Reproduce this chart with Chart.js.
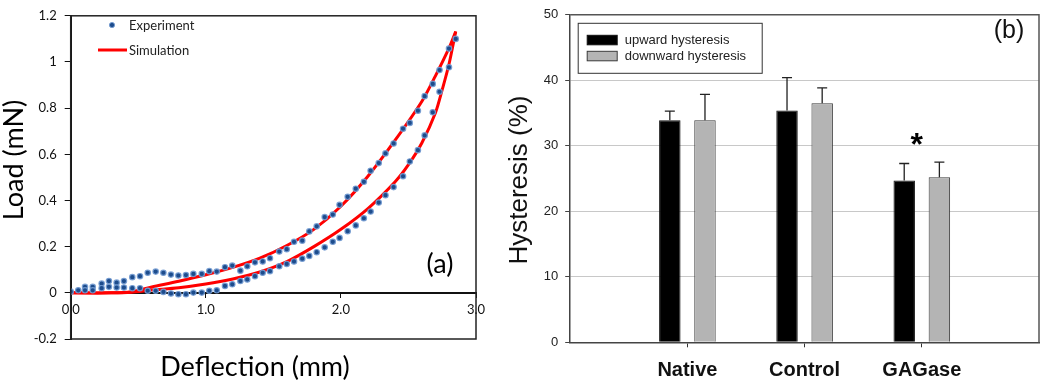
<!DOCTYPE html>
<html>
<head>
<meta charset="utf-8">
<script src="https://cdn.jsdelivr.net/npm/chart.js@4.4.0/dist/chart.umd.min.js"></script>
<style>
  body { margin: 0; background: #fff; }
  #wrap { position: relative; width: 1050px; height: 383px; }
  canvas { position: absolute; top: 0; }
  #loadChart { left: 0; }
  #hystChart { left: 500px; }
</style>
</head>
<body>
<div id="wrap">
  <canvas id="loadChart" width="500" height="383"></canvas>
  <canvas id="hystChart" width="550" height="383"></canvas>
</div>
<script>
// panel (a) - [deflection (mm), load (mN)]
var expLoading = [[0.00,0.005],[0.056,0.011],[0.106,0.026],[0.163,0.026],[0.229,0.040],[0.283,0.051],[0.340,0.044],
  [0.394,0.051],[0.456,0.068],[0.513,0.072],[0.570,0.087],[0.629,0.092],[0.686,0.087],[0.742,0.079],[0.797,0.075],
  [0.853,0.077],[0.908,0.082],[0.970,0.082],[1.026,0.094],[1.081,0.092],[1.142,0.111],[1.196,0.118],[1.256,0.096],
  [1.307,0.115],[1.364,0.132],[1.421,0.136],[1.475,0.150],[1.544,0.179],[1.599,0.189],[1.653,0.221],[1.714,0.226],
  [1.766,0.266],[1.821,0.288],[1.88,0.328],[1.94,0.339],[1.99,0.381],[2.05,0.416],[2.11,0.451],[2.17,0.481],
  [2.22,0.529],[2.28,0.562],[2.33,0.604],[2.39,0.647],[2.46,0.711],[2.51,0.736],[2.57,0.789],[2.62,0.852],
  [2.68,0.905],[2.73,0.965],[2.80,1.058],[2.85,1.10]];
var expUnloading = [[2.80,0.977],[2.73,0.871],[2.68,0.782],[2.62,0.682],[2.57,0.618],[2.51,0.569],[2.46,0.505],
  [2.39,0.458],[2.33,0.423],[2.28,0.391],[2.22,0.352],[2.17,0.323],[2.11,0.292],[2.05,0.267],[1.99,0.238],
  [1.94,0.221],[1.88,0.197],[1.821,0.176],[1.766,0.160],[1.714,0.148],[1.653,0.136],[1.599,0.125],[1.544,0.115],
  [1.475,0.094],[1.421,0.087],[1.364,0.072],[1.307,0.058],[1.256,0.051],[1.196,0.037],[1.142,0.030],[1.081,0.011],
  [1.026,0.009],[0.970,0.001],[0.908,0.001],[0.853,-0.006],[0.797,-0.006],[0.742,-0.003],[0.686,0.004],
  [0.629,0.009],[0.570,0.009],[0.513,0.020],[0.456,0.020],[0.394,0.023],[0.340,0.023],[0.283,0.026],
  [0.229,0.020],[0.163,0.011],[0.106,0.011]];
var simLoading = [[0,0],[0.3,0.0],[0.45,0.005],[0.6,0.025],[0.8,0.05],[1.0,0.078],[1.2,0.11],[1.4,0.15],
  [1.6,0.205],[1.8,0.275],[2.0,0.375],[2.2,0.505],[2.4,0.66],[2.6,0.83],[2.7,0.94],[2.8,1.06],[2.85,1.132]];
var simUnloading = [[2.85,1.132],[2.8,0.99],[2.75,0.88],[2.7,0.78],[2.6,0.65],[2.5,0.555],[2.4,0.48],[2.2,0.365],
  [2.0,0.275],[1.8,0.2],[1.6,0.135],[1.4,0.09],[1.2,0.06],[1.0,0.038],[0.8,0.022],[0.6,0.012],[0.45,0.003],
  [0.3,0.0],[0,0]];
var deflectionTicks = ['0.0', '1.0', '2.0', '3.0'];
var loadTicks = ['-0.2', '0', '0.2', '0.4', '0.6', '0.8', '1', '1.2'];

// panel (b) - hysteresis (%)
var groups = ['Native', 'Control', 'GAGase'];
var upwardMean = [33.9, 35.4, 24.7];
var upwardErr = [1.4, 5.0, 2.6];
var downwardMean = [33.9, 36.5, 25.2];
var downwardErr = [3.95, 2.35, 2.3];
var significance = ['', '', '*'];

function toXY(pts) {
    return pts.map(function(p) { return { x: p[0], y: p[1] }; });
}

var dotFill = '#1d4c8c';
var dotEdge = 'rgba(115,155,210,0.9)';

// frame, legend, titles for panel (a)
var panelA = {
    id: 'panelA',
    afterDraw: function(chart) {
        var ctx = chart.ctx, a = chart.chartArea;
        ctx.save();
        ctx.strokeStyle = '#222';
        ctx.lineWidth = 1.5;
        ctx.strokeRect(a.left, a.top, a.right - a.left, a.bottom - a.top);

        // legend
        ctx.fillStyle = dotFill;
        ctx.strokeStyle = dotEdge;
        ctx.lineWidth = 1;
        ctx.beginPath();
        ctx.arc(112, 25, 2.6, 0, Math.PI * 2);
        ctx.fill();
        ctx.stroke();
        ctx.strokeStyle = '#ff0000';
        ctx.lineWidth = 3;
        ctx.beginPath();
        ctx.moveTo(98, 50);
        ctx.lineTo(127, 50);
        ctx.stroke();
        ctx.fillStyle = '#222';
        ctx.font = '13px Lato';
        ctx.textAlign = 'left';
        ctx.textBaseline = 'middle';
        ctx.fillText(chart.data.datasets[0].label, 129, 26);
        ctx.fillText(chart.data.datasets[1].label, 129, 51);

        // titles
        ctx.fillStyle = '#000';
        ctx.textAlign = 'center';
        ctx.font = '27px Lato';
        ctx.fillText('Deflection (mm)', 255, 367);
        ctx.fillText('(a)', 440, 264);
        ctx.translate(14, 160);
        ctx.rotate(-Math.PI / 2);
        ctx.fillText('Load (mN)', 0, 0);
        ctx.restore();
    }
};

new Chart(document.getElementById('loadChart'), {
    type: 'scatter',
    data: {
        datasets: [{
            label: 'Experiment',
            data: toXY(expLoading.concat(expUnloading)),
            pointRadius: 2.7,
            pointBackgroundColor: dotFill,
            pointBorderColor: dotEdge,
            pointBorderWidth: 1.2,
            order: 0
        }, {
            label: 'Simulation',
            data: toXY(simLoading),
            showLine: true,
            borderColor: '#ff0000',
            borderWidth: 3,
            pointRadius: 0,
            tension: 0.3,
            order: 1
        }, {
            label: 'Simulation',
            data: toXY(simUnloading),
            showLine: true,
            borderColor: '#ff0000',
            borderWidth: 3,
            pointRadius: 0,
            tension: 0.3,
            order: 1
        }]
    },
    options: {
        responsive: false,
        animation: false,
        layout: { padding: { top: 10, right: 24, bottom: 44, left: 0 } },
        plugins: { legend: { display: false }, tooltip: { enabled: false } },
        scales: {
            x: {
                type: 'linear',
                position: { y: 0 },
                min: 0,
                max: 3,
                ticks: {
                    stepSize: 1,
                    maxRotation: 0,
                    padding: 5,
                    color: '#111',
                    font: { family: 'Lato', size: 13 },
                    callback: function(v, i) { return deflectionTicks[i]; }
                },
                grid: { drawOnChartArea: false, tickLength: 4, color: '#111' },
                border: { color: '#111', width: 2 },
                afterFit: function(s) { s.height = 0; }
            },
            y: {
                min: -0.2,
                max: 1.2,
                ticks: {
                    stepSize: 0.2,
                    padding: 8,
                    color: '#111',
                    font: { family: 'Lato', size: 13 },
                    callback: function(v, i) { return loadTicks[i]; }
                },
                grid: { drawOnChartArea: false, tickLength: 6, color: '#111' },
                border: { color: '#111', width: 2 },
                afterFit: function(s) { s.width = 70.7; }
            }
        }
    },
    plugins: [panelA]
});

// frame, error bars, legend and labels for panel (b)
var panelB = {
    id: 'panelB',
    afterDatasetsDraw: function(chart) {
        var ctx = chart.ctx, y = chart.scales.y;
        ctx.save();
        ctx.strokeStyle = '#222';
        ctx.lineWidth = 1.3;
        chart.data.datasets.forEach(function(ds, di) {
            chart.getDatasetMeta(di).data.forEach(function(bar, j) {
                var top = y.getPixelForValue(ds.data[j].y + ds.err[j]);
                ctx.beginPath();
                ctx.moveTo(bar.x, bar.y);
                ctx.lineTo(bar.x, top);
                ctx.moveTo(bar.x - 5, top);
                ctx.lineTo(bar.x + 5, top);
                ctx.stroke();
            });
        });
        ctx.restore();
    },
    afterDraw: function(chart) {
        var ctx = chart.ctx, a = chart.chartArea, x = chart.scales.x, y = chart.scales.y;
        ctx.save();
        ctx.strokeStyle = '#555';
        ctx.lineWidth = 1.5;
        ctx.beginPath();
        ctx.moveTo(a.left, a.top);
        ctx.lineTo(a.right, a.top);
        ctx.lineTo(a.right, a.bottom);
        ctx.stroke();

        // significance marks
        ctx.fillStyle = '#000';
        ctx.font = 'bold 32px "Liberation Sans"';
        ctx.textAlign = 'center';
        ctx.textBaseline = 'alphabetic';
        significance.forEach(function(s, i) {
            if (!s) return;
            var top = Math.max(upwardMean[i] + upwardErr[i], downwardMean[i] + downwardErr[i]);
            ctx.fillText(s, x.getPixelForValue(i + 1) - 5, y.getPixelForValue(top) - 7);
        });

        // legend
        var lx = a.left + 8, ly = a.top + 8.5;
        ctx.fillStyle = '#fff';
        ctx.fillRect(lx, ly, 184, 50);
        ctx.strokeStyle = '#333';
        ctx.lineWidth = 1;
        ctx.strokeRect(lx, ly, 184, 50);
        ctx.font = '13px "Liberation Sans"';
        ctx.textAlign = 'left';
        ctx.textBaseline = 'middle';
        chart.data.datasets.forEach(function(ds, i) {
            var sy = ly + 12 + i * 16;
            ctx.fillStyle = ds.backgroundColor;
            ctx.fillRect(lx + 9, sy, 30, 9.5);
            ctx.strokeStyle = ds.borderColor;
            ctx.strokeRect(lx + 9, sy, 30, 9.5);
            ctx.fillStyle = '#222';
            ctx.fillText(ds.label, lx + 46.5, sy + 5);
        });

        // titles
        ctx.fillStyle = '#111';
        ctx.textAlign = 'center';
        ctx.font = '25px "Liberation Sans"';
        ctx.fillText('(b)', 509, 31);
        ctx.font = '26px "Liberation Sans"';
        ctx.translate(20, 180);
        ctx.rotate(-Math.PI / 2);
        ctx.fillText('Hysteresis (%)', 0, 0);
        ctx.restore();
    }
};

new Chart(document.getElementById('hystChart'), {
    type: 'bar',
    data: {
        datasets: [{
            label: 'upward hysteresis',
            data: upwardMean.map(function(v, i) { return { x: i + 1, y: v }; }),
            err: upwardErr,
            backgroundColor: '#000000',
            borderColor: '#111111',
            borderWidth: 1,
            categoryPercentage: 0.6,
            barPercentage: 0.61
        }, {
            label: 'downward hysteresis',
            data: downwardMean.map(function(v, i) { return { x: i + 1, y: v }; }),
            err: downwardErr,
            backgroundColor: '#b4b4b4',
            borderColor: '#3a3a3a',
            borderWidth: 1,
            categoryPercentage: 0.6,
            barPercentage: 0.61
        }]
    },
    options: {
        responsive: false,
        animation: false,
        layout: { padding: { top: 7.3, right: 3, bottom: 0, left: 0 } },
        plugins: { legend: { display: false }, tooltip: { enabled: false } },
        scales: {
            x: {
                type: 'linear',
                min: 0,
                max: 4,
                offset: false,
                ticks: {
                    stepSize: 1,
                    autoSkip: false,
                    maxRotation: 0,
                    padding: 11,
                    color: '#111',
                    font: { family: 'Liberation Sans', size: 20, weight: 'bold' },
                    callback: function(v) { return groups[v - 1] || ''; }
                },
                grid: {
                    offset: false,
                    drawOnChartArea: false,
                    tickLength: 5,
                    tickColor: function(c) {
                        return (c.tick && c.tick.value > 0 && c.tick.value < 4) ? '#333' : 'rgba(0,0,0,0)';
                    }
                },
                border: { color: '#444', width: 1.5 },
                afterFit: function(s) { s.height = 40.7; }
            },
            y: {
                min: 0,
                max: 50,
                ticks: {
                    stepSize: 10,
                    padding: 7,
                    color: '#222',
                    font: { family: 'Liberation Sans', size: 13 }
                },
                grid: {
                    tickLength: 5,
                    tickColor: '#444',
                    color: function(c) {
                        return (c.tick && c.tick.value > 0 && c.tick.value < 50) ? '#c8c8c8' : 'rgba(0,0,0,0)';
                    }
                },
                border: { color: '#444', width: 1.5 },
                afterFit: function(s) { s.width = 70.2; }
            }
        }
    },
    plugins: [panelB]
});
</script>
</body>
</html>
